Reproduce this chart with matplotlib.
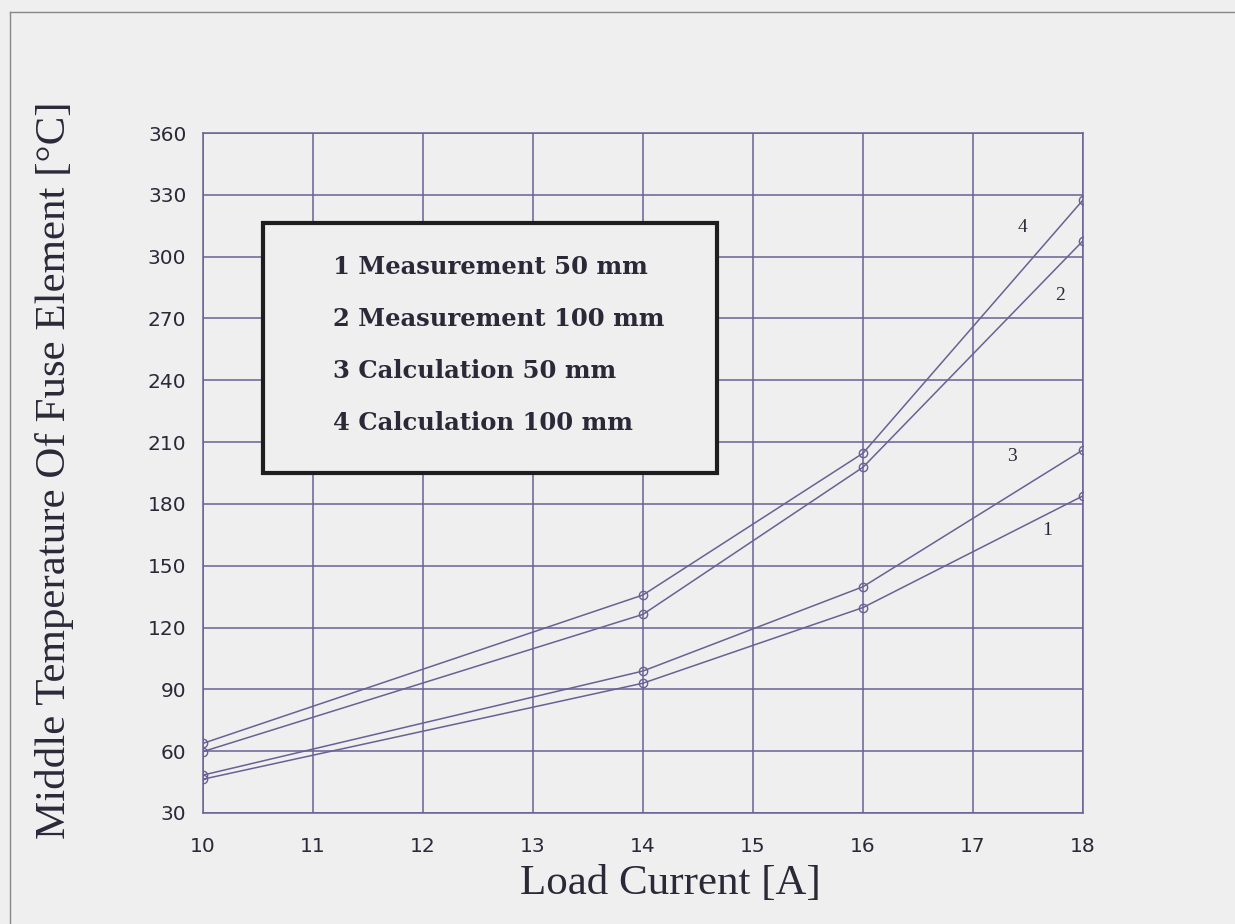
import numpy as np
import matplotlib
matplotlib.use('Agg')
import matplotlib.pyplot as plt
from matplotlib.patches import Rectangle

# load current [A]
current = [10, 14, 16, 18]

# middle temperature of fuse element [C]
meas_50 = [46.4, 93.0, 129.7, 183.9]     # 1
meas_100 = [59.8, 126.4, 197.8, 307.7]   # 2
calc_50 = [48.4, 98.9, 139.8, 206.2]     # 3
calc_100 = [63.8, 135.8, 204.6, 327.5]   # 4

series = [meas_50, meas_100, calc_50, calc_100]
curve_ids = ['1', '2', '3', '4']
legend_lines = ['1 Measurement 50 mm', '2 Measurement 100 mm',
                '3 Calculation 50 mm', '4 Calculation 100 mm']

xticks = np.arange(10, 19)
yticks = np.arange(30, 361, 30)

ink = '#6b6094'
bg = '#efefef'
txt = '#2b2838'

fig = plt.figure(figsize=(12.35, 9.24), dpi=100, facecolor=bg)
ax = fig.add_axes([203 / 1235, 1 - 813 / 924, 880 / 1235, 680 / 924])
ax.set_facecolor(bg)

for ys in series:
    ax.plot(current, ys, color=ink, lw=1.1, marker='o', ms=6,
            mfc='none', mec=ink, mew=1.0, zorder=3)

ax.set_xlim(10, 18)
ax.set_ylim(30, 360)
ax.set_xticks(xticks)
ax.set_yticks(yticks)
ax.grid(True, color=ink, lw=1.1)
ax.tick_params(length=0, labelsize=14.5, labelcolor=txt)
ax.tick_params(axis='y', pad=12)
ax.tick_params(axis='x', pad=17)
for s in ax.spines.values():
    s.set_color(ink)
    s.set_linewidth(1.1)

# curve numbers near the right end
label_pos = {'1': (17.67, 167), '2': (17.79, 281), '3': (17.35, 203), '4': (17.45, 314)}
for cid in curve_ids:
    ax.text(*label_pos[cid], cid, fontsize=14, family='Liberation Serif',
            color=txt, ha='center', va='center')

# boxed legend
box = Rectangle((263 / 1235, 1 - 473 / 924), 454 / 1235, 250 / 924,
                transform=fig.transFigure, facecolor=bg, edgecolor='#1e1e1e',
                lw=3, zorder=5)
fig.patches.append(box)
for i, line in enumerate(legend_lines):
    fig.text(333 / 1235, 1 - (267 + 52 * i) / 924, line, fontsize=17.5,
             family='DejaVu Serif', weight='bold', color=txt,
             ha='left', va='center', zorder=6)

fig.text(670 / 1235, 1 - 884 / 924, 'Load Current [A]', fontsize=31,
         family='Liberation Serif', color=txt, ha='center', va='center')
fig.text(55 / 1235, 1 - 470 / 924, 'Middle Temperature Of Fuse Element [°C]',
         fontsize=31, family='Liberation Serif', color=txt, rotation=90,
         ha='center', va='center')

# page frame of the scan
fig.add_artist(plt.Line2D([10 / 1235, 1], [1 - 12 / 924, 1 - 12 / 924],
                          transform=fig.transFigure, color='#888888', lw=1))
fig.add_artist(plt.Line2D([10 / 1235, 10 / 1235], [0, 1 - 12 / 924],
                          transform=fig.transFigure, color='#888888', lw=1))

fig.savefig('out.png', dpi=100, facecolor=bg)
